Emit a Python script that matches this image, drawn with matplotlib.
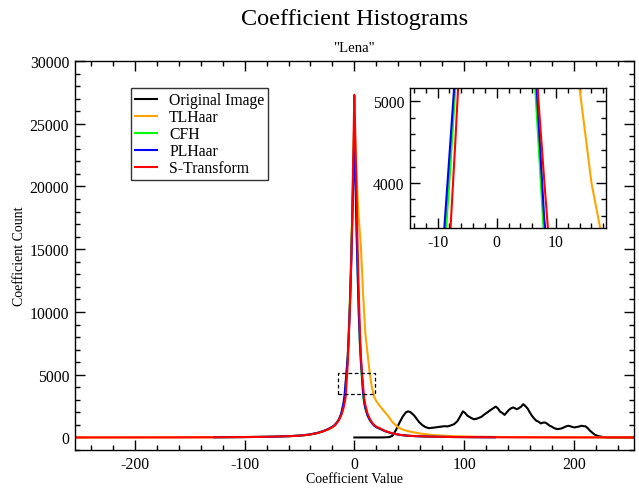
import matplotlib
matplotlib.use("Agg")
import matplotlib.pyplot as plt
from matplotlib.ticker import MultipleLocator
from matplotlib.patches import Rectangle

plt.rcParams['font.family'] = ['Liberation Serif', 'DejaVu Serif']
plt.rcParams['axes.unicode_minus'] = False

# ---------------- data ----------------
grid_neg = [-255, -200, -160, -128, -110, -90, -75, -60, -50, -42, -34, -28, -24, -20,
            -18, -16, -14, -12, -10, -9, -8, -7, -6, -5, -4, -3, -2, -1]
grid_pos = [1, 2, 3, 4, 5, 6, 7, 8, 9, 10, 12, 14, 16, 18, 20, 24, 28, 34, 42, 50,
            60, 75, 90, 110, 128, 160, 200, 255]
grid = grid_neg + [0] + grid_pos

red_vals = [0, 4, 8, 15, 25, 40, 60, 100, 140, 210, 340, 500, 640, 820,
            950, 1150, 1400, 1750, 2300, 2700, 3200, 4500, 5900, 8200, 10500, 13500, 17300, 22500,
            27300,
            23500, 19500, 15000, 11500, 8700, 6500, 5050, 4050, 3100, 2600, 1900, 1500, 1200, 1000, 860,
            700, 520, 340, 200, 130, 90, 55, 35, 22, 14, 8, 4, 0]

# PLHaar and CFH cover -128..128
grid_mid = grid[3:-3]
blue_vals = [15, 25, 40, 60, 100, 150, 220, 350, 520, 660, 850,
             980, 1180, 1450, 1900, 2700, 3300, 4330, 5370, 6500, 8300, 10600, 13400, 16800, 20500,
             24200,
             20500, 16500, 13000, 10000, 7700, 6100, 4840, 3580, 2800, 2350, 1750, 1400, 1150, 950, 820,
             660, 500, 330, 200, 130, 90, 55, 35, 22, 14]
green_vals = [15, 25, 40, 60, 100, 145, 215, 345, 510, 650, 840,
              970, 1170, 1430, 1850, 2500, 3000, 4020, 5160, 6500, 8500, 11000, 14000, 17500, 21500,
              25500,
              21000, 17000, 13500, 10000, 7500, 5770, 4550, 3330, 2700, 2300, 1750, 1400, 1150, 950, 820,
              660, 500, 330, 200, 130, 90, 55, 35, 22, 14]

orange_x = grid_neg + [0, 1, 2, 3, 4, 6, 8, 10, 12, 14, 16, 18, 20, 22, 24, 26, 28, 30, 35, 40,
                       45, 50, 60, 72, 90, 110, 128, 160, 200, 255]
orange_vals = [0, 4, 8, 15, 25, 40, 60, 100, 145, 215, 345, 510, 650, 840,
               970, 1170, 1430, 1850, 2500, 3100, 4100, 5300, 6600, 8600, 11000, 14000, 17500, 21000,
               25000, 23000, 21000, 19000, 17500, 15200, 11400, 8300, 6700, 5150, 4000, 3250, 2900,
               2650, 2420, 2200, 2000, 1800, 1200, 800, 600, 480, 310, 190, 100, 60, 40, 20, 10, 3]

orig_x = [0, 26, 32, 35, 38, 41, 44, 47, 49, 51, 53, 55, 57, 59, 62, 65, 68, 71, 74, 77, 80,
          82, 85, 88, 91, 94, 96, 99, 101, 103, 106, 109, 111, 113, 116, 118, 121, 124, 127, 129,
          131, 133, 135, 137, 139, 141, 143, 145, 147, 148, 150, 152, 154, 156, 158, 160, 162, 164,
          166, 168, 170, 172, 174, 176, 178, 180, 182, 185, 187, 189, 191, 193, 195, 197, 199, 201,
          203, 205, 207, 209, 211, 213, 215, 217, 219, 221, 224, 227, 230, 233, 255]
orig_vals = [0, 0, 30, 150, 600, 1150, 1650, 2000, 2080, 2020, 1880, 1700, 1460, 1230, 980, 820,
             740, 770, 800, 840, 870, 900, 880, 960, 1060, 1300, 1600, 2080, 1950, 1740, 1580, 1450,
             1480, 1540, 1650, 1800, 1980, 2170, 2350, 2460, 2300, 2050, 1950, 1800, 2000, 2200, 2330,
             2390, 2300, 2250, 2330, 2450, 2650, 2500, 2300, 2000, 1720, 1500, 1330, 1250, 1120, 1180,
             1190, 1080, 940, 860, 750, 660, 690, 720, 800, 880, 930, 890, 830, 800, 840, 870, 930,
             900, 880, 720, 530, 380, 230, 150, 80, 35, 10, 0, 0]

labels = ["Original Image", "TLHaar", "CFH", "PLHaar", "S-Transform"]
colors = ["#000000", "#FFA500", "#00FF00", "#0000FF", "#FF0000"]

main_xlim = (-255, 255)
main_ylim = (-1000, 30000)
zoom_xlim = (-14.6, 18.5)
zoom_ylim = (3450, 5160)

series = [(orig_x, orig_vals), (orange_x, orange_vals), (grid_mid, green_vals),
          (grid_mid, blue_vals), (grid, red_vals)]

# ---------------- figure ----------------
W, H = 639, 489
fig = plt.figure(figsize=(W / 100, H / 100), dpi=100)

L, R, T, B = 74.7, 634, 62, 451
ax = fig.add_axes([L / W, 1 - B / H, (R - L) / W, (B - T) / H])

for (xs, ys), lab, c in zip(series, labels, colors):
    ax.plot(xs, ys, color=c, lw=1.5, label=lab, solid_joinstyle='round')

ax.set_xlim(*main_xlim)
ax.set_ylim(*main_ylim)
ax.xaxis.set_major_locator(MultipleLocator(100))
ax.xaxis.set_minor_locator(MultipleLocator(20))
ax.yaxis.set_major_locator(MultipleLocator(5000))
ax.yaxis.set_minor_locator(MultipleLocator(1000))
ax.tick_params(which='both', direction='in', top=True, right=True, width=1.0, labelsize=11.3)
ax.tick_params(which='major', length=7, pad=4)
ax.tick_params(which='minor', length=3.5)
for s in ax.spines.values():
    s.set_linewidth(1.0)

ax.add_patch(Rectangle((zoom_xlim[0], zoom_ylim[0]), zoom_xlim[1] - zoom_xlim[0],
                       zoom_ylim[1] - zoom_ylim[0], fill=False, ec='black', lw=0.9,
                       ls=(0, (3, 2)), zorder=5))

leg = ax.legend(loc='upper left', bbox_to_anchor=(130.7 / W, 1 - 89.3 / H),
                bbox_transform=fig.transFigure, borderaxespad=0, fancybox=False,
                frameon=True, edgecolor='black', fontsize=11.3, handlelength=1.4,
                handletextpad=0.8, labelspacing=0.065, borderpad=0.25)
leg.get_frame().set_linewidth(1.0)
leg.get_frame().set_boxstyle('square', pad=0)

fig.text(354.3 / W, 1 - 20 / H, "Coefficient Histograms", ha='center', va='center', fontsize=17.5)
fig.text(354.3 / W, 1 - 48.5 / H, '"Lena"', ha='center', va='center', fontsize=10.7)
fig.text(354.3 / W, 1 - 479.5 / H, "Coefficient Value", ha='center', va='center', fontsize=10)
fig.text(20 / W, 1 - 256 / H, "Coefficient Count", ha='center', va='center', fontsize=10,
         rotation=90)

# ---------------- inset ----------------
iL, iR, iT, iB = 410.3, 606.3, 89.3, 229
axi = fig.add_axes([iL / W, 1 - iB / H, (iR - iL) / W, (iB - iT) / H])
for (xs, ys), c in zip(series, colors):
    axi.plot(xs, ys, color=c, lw=1.5)
axi.set_xlim(*zoom_xlim)
axi.set_ylim(*zoom_ylim)
axi.xaxis.set_major_locator(MultipleLocator(10))
axi.xaxis.set_minor_locator(MultipleLocator(2))
axi.yaxis.set_major_locator(MultipleLocator(1000))
axi.yaxis.set_minor_locator(MultipleLocator(200))
axi.tick_params(which='both', direction='in', top=True, right=True, width=1.0, labelsize=11.3)
axi.tick_params(which='major', length=7, pad=4)
axi.tick_params(which='minor', length=3.5)
for s in axi.spines.values():
    s.set_linewidth(1.0)

fig.savefig("out.png", dpi=100)
